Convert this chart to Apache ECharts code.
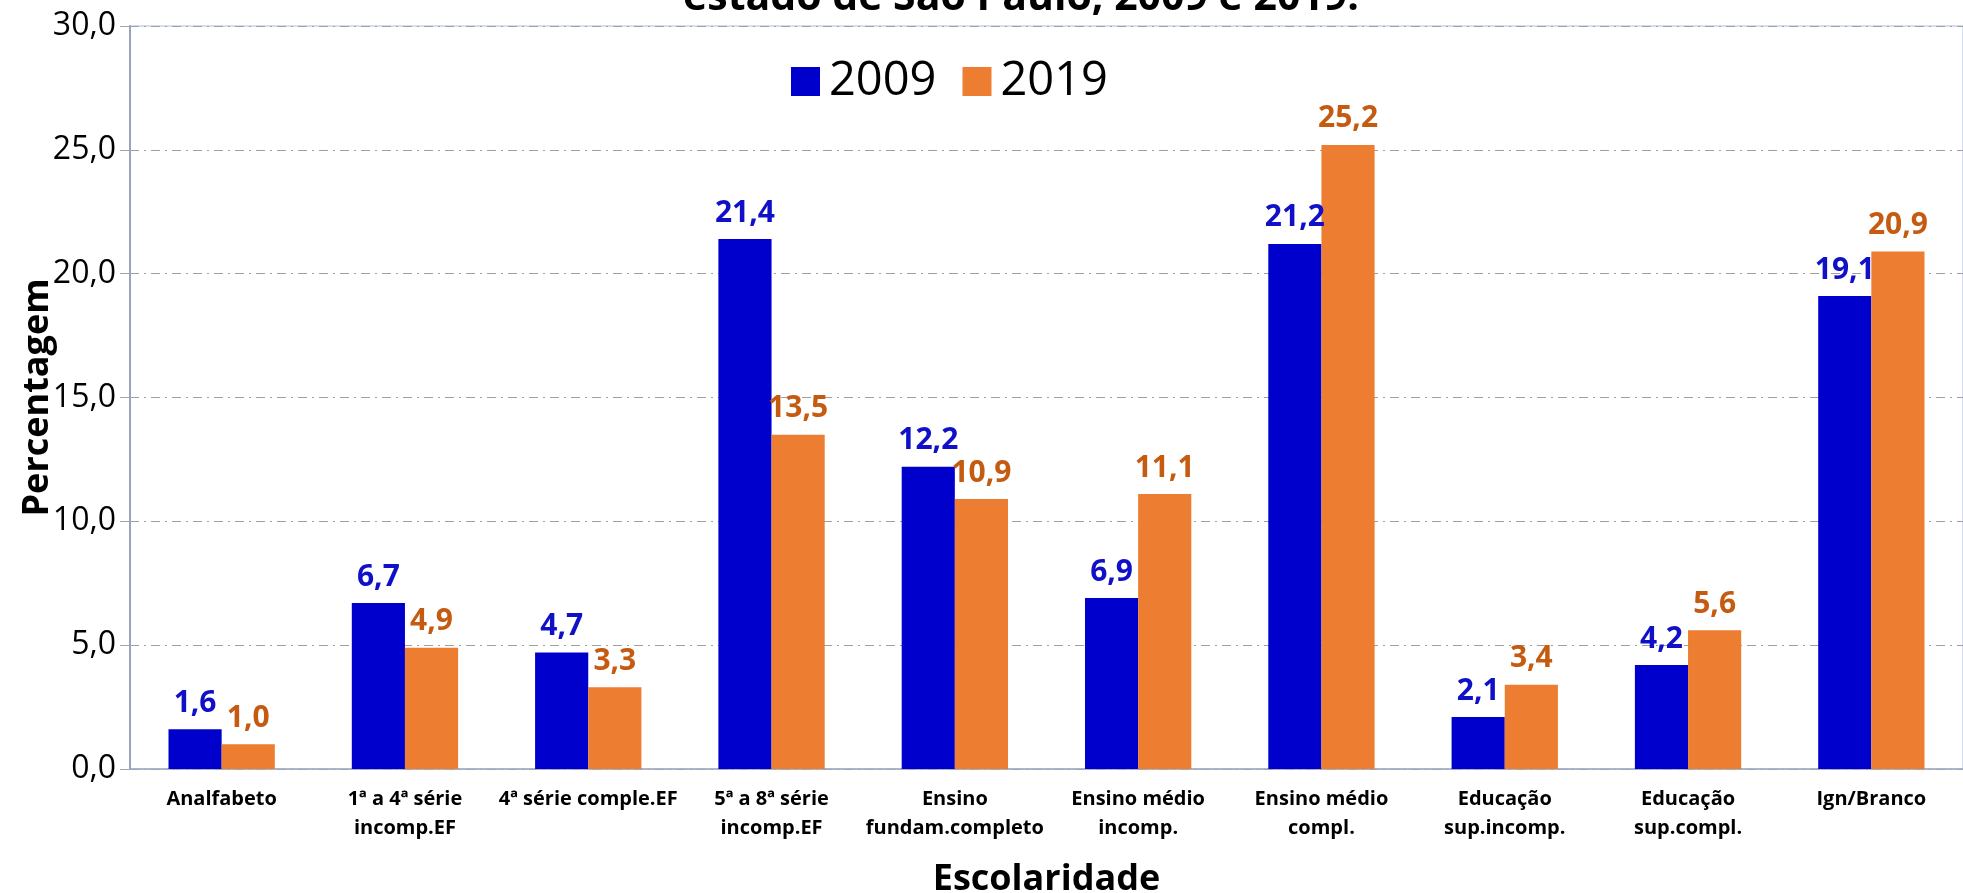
<!DOCTYPE html>
<html>
<head>
<meta charset="utf-8">
<script src="https://cdn.jsdelivr.net/npm/echarts@6/dist/echarts.min.js"></script>
<style>
	html, body { margin: 0; padding: 0; background: #fff; }
	#chart { width: 1963px; height: 893px; }
</style>
</head>
<body>
<div id="chart"></div>
<script>
const categories = [
	"Analfabeto",
	"1ª a 4ª série\nincomp.EF",
	"4ª série comple.EF",
	"5ª a 8ª série\nincomp.EF",
	"Ensino\nfundam.completo",
	"Ensino médio\nincomp.",
	"Ensino médio\ncompl.",
	"Educação\nsup.incomp.",
	"Educação\nsup.compl.",
	"Ign/Branco"
];
const values2009 = [1.6, 6.7, 4.7, 21.4, 12.2, 6.9, 21.2, 2.1, 4.2, 19.1];
const values2019 = [1.0, 4.9, 3.3, 13.5, 10.9, 11.1, 25.2, 3.4, 5.6, 20.9];
const yTicks = [0, 5, 10, 15, 20, 25, 30];

const fmt = v => v.toFixed(1).replace(".", ",");
const font = "'Open Sans', 'Noto Sans', sans-serif";

const chart = echarts.init(document.getElementById("chart"));

const barSeries = (name, data, color, labelColor) => ({
	name,
	type: "bar",
	data,
	barGap: "0%",
	barCategoryGap: "42%",
	itemStyle: { color },
	label: {
		show: true,
		position: "top",
		distance: 11,
		color: labelColor,
		fontFamily: font,
		fontWeight: "bold",
		fontSize: 30,
		formatter: p => fmt(p.value)
	}
});

chart.setOption({
	animation: false,
	title: {
		text: "estado de São Paulo, 2009 e 2019.",
		left: 1016,
		textAlign: "center",
		top: -27,
		textStyle: { fontFamily: font, fontWeight: "bold", fontSize: 41, color: "#000" }
	},
	legend: {
		data: ["2009", "2019"],
		left: 786,
		top: 53,
		itemWidth: 29,
		itemHeight: 29,
		itemGap: 26,
		icon: "rect",
		textStyle: { fontFamily: font, fontSize: 47, color: "#000", padding: [0, 0, 0, 4] }
	},
	grid: {
		left: 130,
		right: 0,
		top: 26,
		bottom: 124,
		outerBoundsMode: "none",
		show: true,
		borderColor: "#a9bde6",
		borderWidth: 1
	},
	xAxis: {
		type: "category",
		data: categories,
		name: "Escolaridade",
		nameLocation: "middle",
		nameGap: 93,
		nameTextStyle: { fontFamily: font, fontWeight: "bold", fontSize: 36, color: "#000" },
		axisLine: { lineStyle: { color: "#a0a8bc", width: 1.5 } },
		axisTick: { length: 10, lineStyle: { color: "#a0a8bc" } },
		axisLabel: {
			interval: 0,
			margin: 16,
			fontFamily: font,
			fontWeight: "bold",
			fontSize: 20,
			lineHeight: 29,
			color: "#000"
		}
	},
	yAxis: {
		type: "value",
		min: yTicks[0],
		max: yTicks[yTicks.length - 1],
		interval: 5,
		name: "Percentagem",
		nameLocation: "middle",
		nameGap: 74,
		nameMoveOverlap: false,
		nameTextStyle: { fontFamily: font, fontWeight: "bold", fontSize: 36, color: "#000" },
		axisLine: { show: true, lineStyle: { color: "#9aa3b8", width: 2 } },
		axisTick: { show: true, length: 10, lineStyle: { color: "#9aa3b8" } },
		axisLabel: {
			margin: 14,
			fontFamily: font,
			fontSize: 32,
			color: "#000",
			formatter: v => fmt(v)
		},
		splitLine: {
			lineStyle: { color: "#a0a0a0", type: [9, 5, 2, 5], width: 1 }
		}
	},
	series: [
		barSeries("2009", values2009, "#0000CC", "#1010C8"),
		barSeries("2019", values2019, "#ED7D31", "#C55A11")
	]
});
</script>
</body>
</html>
